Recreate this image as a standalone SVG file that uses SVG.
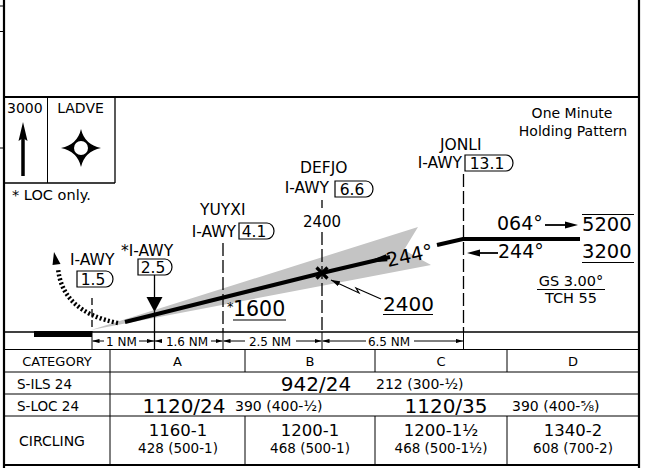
<svg xmlns="http://www.w3.org/2000/svg" width="650" height="468" viewBox="0 0 650 468">
<defs>
<style>
text{font-family:"DejaVu Sans","Liberation Sans",sans-serif;fill:#000}
.m{text-anchor:middle}
.e{text-anchor:end}
.lab{font-size:15.5px}
.frame{stroke:#000;stroke-width:2.2;fill:none}
.thin{stroke:#000;stroke-width:1;fill:none}
.dash{stroke:#000;stroke-width:1.3;fill:none;stroke-dasharray:13 4}
.box{fill:#fff;stroke:#000;stroke-width:1.2}
.thick{stroke:#000;stroke-width:4;fill:none}
.nm{font-size:12px}
.big{font-size:20px}
.sm{font-size:14px}
.row{font-size:13.5px}
</style>
<marker id="ah" viewBox="0 0 10 6" refX="10" refY="3" markerWidth="7" markerHeight="4.2" orient="auto" markerUnits="userSpaceOnUse"><path d="M0,0 L10,3 L0,6 Z"/></marker>
<marker id="ah2" viewBox="0 0 10 6" refX="10" refY="3" markerWidth="9" markerHeight="5.4" orient="auto" markerUnits="userSpaceOnUse"><path d="M0,0 L10,3 L0,6 Z"/></marker>
</defs>
<rect width="650" height="468" fill="#fff"/>

<g id="frame">
<line class="frame" x1="4" y1="0" x2="4" y2="468"/>
<line class="frame" x1="639" y1="0" x2="639" y2="468"/>
<line class="frame" x1="4" y1="97" x2="639" y2="97"/>
<line class="thin" x1="0" y1="6" x2="4" y2="6"/>
<line class="thin" x1="0" y1="31.5" x2="4" y2="31.5"/>
<line class="thin" x1="0" y1="148" x2="4" y2="148"/>
<line class="frame" x1="4" y1="332" x2="639" y2="332" style="stroke-width:1.6"/>
<line class="frame" x1="4" y1="465" x2="639" y2="465"/>
</g>

<g id="msa-box">
<line class="thin" x1="4" y1="183" x2="115" y2="183" style="stroke-width:1.3"/>
<line class="thin" x1="115" y1="97" x2="115" y2="183" style="stroke-width:1.3"/>
<line class="thin" x1="47.5" y1="97" x2="47.5" y2="183"/>
<text x="7" y="113" style="font-size:14px">3000</text>
<line x1="23" y1="176" x2="23" y2="137" stroke="#000" stroke-width="3.5"/>
<polygon points="23,122 27.5,141 23,138 18.5,141"/>
</g>

<g id="LADVE">
<text x="80.5" y="113" class="m" style="font-size:14px">LADVE</text>
<path d="M81,129 Q84.5,144.5 101,148 Q84.5,151.5 81,167 Q77.5,151.5 61,148 Q77.5,144.5 81,129 Z"/>
<circle cx="81" cy="148" r="7" fill="#fff"/>
</g>

<text x="12" y="200" style="font-size:14.5px">* LOC only.</text>

<g id="holding-note">
<text x="572" y="118" class="m" style="font-size:14px">One Minute</text>
<text x="573" y="136" class="m" style="font-size:14px">Holding Pattern</text>
</g>

<g id="glideslope-area">
<polygon points="91,330 418,227 404,250 431,265" fill="#c4c4c4"/>
</g>

<g id="connectors">
<line class="dash" x1="92" y1="298" x2="92" y2="332" style="stroke-dasharray:7 4"/>
<line class="thin" x1="92" y1="332" x2="92" y2="349.5"/>
<line class="thin" x1="154.5" y1="275" x2="154.5" y2="298" style="stroke-width:1.3"/>
<line class="thin" x1="154.5" y1="311" x2="154.5" y2="349.5" style="stroke-width:1.3"/>
<line class="dash" x1="223" y1="243" x2="223" y2="332"/>
<line class="thin" x1="223" y1="332" x2="223" y2="349.5"/>
<line class="dash" x1="322" y1="200" x2="322" y2="208"/>
<line class="dash" x1="322" y1="232" x2="322" y2="332"/>
<line class="thin" x1="322" y1="332" x2="322" y2="349.5"/>
<line class="dash" x1="463.5" y1="174" x2="463.5" y2="332"/>
<line class="thin" x1="463.5" y1="332" x2="463.5" y2="349.5"/>
<path d="M118,323 Q62,312 58,268" fill="none" stroke="#000" stroke-width="4.5" stroke-dasharray="2 2.2"/>
<polygon points="54,252 52.5,265 60.5,264"/>
<path d="M125,322 L322,273 L390,257" class="thick"/>
<polygon points="365,262.8 386,254.3 387.5,261.3"/>
<path d="M437,245 L463,239 L580,239" class="thick"/>
<line class="thin" x1="545" y1="225" x2="568" y2="225" style="stroke-width:1.8"/>
<polygon points="578,225 565,221.5 565,228.5"/>
<line class="thin" x1="478" y1="253" x2="498" y2="253" style="stroke-width:1.8"/>
<polygon points="467,253 480,249.5 480,256.5"/>
<path d="M381,299 L356,288 L359,293 L331,280" class="thin" style="stroke-width:1.2" marker-end="url(#ah2)"/>
<g class="thin" marker-end="url(#ah)">
<line x1="104" y1="341" x2="92.5" y2="341"/>
<line x1="139" y1="341" x2="154" y2="341"/>
<line x1="162" y1="341" x2="155" y2="341"/>
<line x1="211" y1="341" x2="222.5" y2="341"/>
<line x1="245" y1="341" x2="223.5" y2="341"/>
<line x1="296" y1="341" x2="321.5" y2="341"/>
<line x1="366" y1="341" x2="322.5" y2="341"/>
<line x1="414" y1="341" x2="463" y2="341"/>
</g>
</g>

<g id="runway">
<rect x="34" y="331" width="58" height="6"/>
</g>

<g id="fix-IAWY15">
<text x="70" y="265" class="lab">I-AWY</text>
<path d="M77,271 H106 A7,8 0 0 1 106,287 H77 Z" class="box"/>
<text x="93" y="285" class="m lab">1.5</text>
</g>

<g id="fix-IAWY25">
<text x="121" y="256" class="lab">*I-AWY</text>
<path d="M138,259 H165 A7,8 0 0 1 165,275 H138 Z" class="box"/>
<text x="153" y="273" class="m lab">2.5</text>
<polygon points="146.5,297 162.5,297 154.5,312"/>
</g>

<g id="fix-YUYXI">
<text x="200" y="215" class="lab">YUYXI</text>
<text x="236" y="237" class="e lab">I-AWY</text>
<path d="M239,223 H267 A7,8 0 0 1 267,239 H239 Z" class="box"/>
<text x="254" y="237" class="m lab">4.1</text>
<text x="227" y="311" style="font-size:13px">*</text>
<text x="233" y="316" style="font-size:20.5px">1600</text>
<line class="thin" x1="233" y1="320" x2="286" y2="320" style="stroke-width:1.2"/>
</g>

<g id="fix-DEFJO">
<text x="300" y="173" class="lab">DEFJO</text>
<text x="329" y="193" class="e lab">I-AWY</text>
<path d="M335,181 H366 A7,8 0 0 1 366,197 H335 Z" class="box"/>
<text x="352" y="195" class="m lab">6.6</text>
<text x="322" y="227" class="m" style="font-size:15px">2400</text>
<path d="M316.5,267.5 L327.5,278.5 M327.5,267.5 L316.5,278.5" stroke="#000" stroke-width="3.2"/>
<text x="383" y="311" style="font-size:20px">2400</text>
<line class="thin" x1="383" y1="314.5" x2="433" y2="314.5" style="stroke-width:1.2"/>
<text x="388" y="267" transform="rotate(-12 388 267)" style="font-size:19.5px">244°</text>
</g>

<g id="fix-JONLI">
<text x="440" y="150" class="lab">JONLI</text>
<text x="462" y="168" class="e lab">I-AWY</text>
<path d="M465,155 H506 A7,8 0 0 1 506,171 H465 Z" class="box"/>
<text x="487" y="169" class="m lab">13.1</text>
</g>

<g id="holding-labels">
<text x="497" y="230" style="font-size:19px">064°</text>
<text x="582" y="231" style="font-size:19.5px">5200</text>
<line class="thin" x1="582" y1="214.5" x2="634" y2="214.5" style="stroke-width:1.2"/>
<text x="498" y="258" style="font-size:19px">244°</text>
<text x="582" y="258" style="font-size:19.5px">3200</text>
<line class="thin" x1="582" y1="262.5" x2="634" y2="262.5" style="stroke-width:1.2"/>
<text x="571" y="286" class="m" style="font-size:14.5px">GS 3.00°</text>
<line class="thin" x1="537" y1="289.5" x2="605" y2="289.5"/>
<text x="571" y="303" class="m" style="font-size:14.5px">TCH 55</text>
</g>

<g id="distances">
<text x="121.5" y="345.5" class="m nm">1 NM</text>
<text x="187" y="345.5" class="m nm">1.6 NM</text>
<text x="270" y="345.5" class="m nm">2.5 NM</text>
<text x="389" y="345.5" class="m nm">6.5 NM</text>
</g>

<g id="minima-table">
<g class="thin">
<line x1="4" y1="349.5" x2="639" y2="349.5"/>
<line x1="4" y1="372" x2="639" y2="372"/>
<line x1="4" y1="394" x2="639" y2="394"/>
<line x1="4" y1="416" x2="639" y2="416"/>
<line x1="110" y1="349.5" x2="110" y2="465"/>
<line x1="245" y1="349.5" x2="245" y2="372"/>
<line x1="375" y1="349.5" x2="375" y2="372"/>
<line x1="507" y1="349.5" x2="507" y2="372"/>
<line x1="245" y1="416" x2="245" y2="465"/>
<line x1="375" y1="416" x2="375" y2="465"/>
<line x1="507" y1="416" x2="507" y2="465"/>
</g>
<text x="57" y="366" class="m" style="font-size:13px">CATEGORY</text>
<text x="177.5" y="366" class="m" style="font-size:13px">A</text>
<text x="310" y="366" class="m" style="font-size:13px">B</text>
<text x="441" y="366" class="m" style="font-size:13px">C</text>
<text x="573" y="366" class="m" style="font-size:13px">D</text>

<text x="17" y="388.5" class="row">S-ILS 24</text>
<text x="316" y="391" class="m big">942/24</text>
<text x="376" y="389" class="sm">212 (300-½)</text>

<text x="17" y="410.5" class="row">S-LOC 24</text>
<text x="184" y="413" class="m big">1120/24</text>
<text x="235" y="411" class="sm">390 (400-½)</text>
<text x="446" y="413" class="m big">1120/35</text>
<text x="512" y="411" class="sm">390 (400-⅝)</text>

<text x="19" y="446" style="font-size:14px">CIRCLING</text>
<text x="178" y="435.5" class="m" style="font-size:16.5px">1160-1</text>
<text x="178" y="453" class="m" style="font-size:13.5px">428 (500-1)</text>
<text x="310" y="435.5" class="m" style="font-size:16.5px">1200-1</text>
<text x="310" y="453" class="m" style="font-size:13.5px">468 (500-1)</text>
<text x="441" y="435.5" class="m" style="font-size:16.5px">1200-1½</text>
<text x="441" y="453" class="m" style="font-size:13.5px">468 (500-1½)</text>
<text x="573" y="435.5" class="m" style="font-size:16.5px">1340-2</text>
<text x="573" y="453" class="m" style="font-size:13.5px">608 (700-2)</text>
</g>
</svg>
